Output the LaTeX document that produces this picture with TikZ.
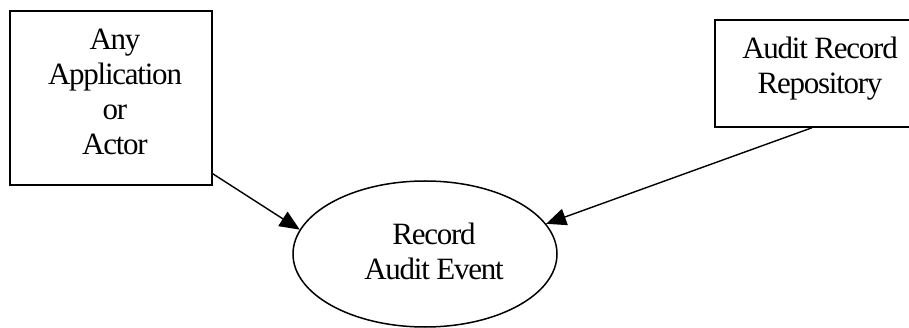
\documentclass[tikz,border=0pt]{standalone}
\usepackage{fontspec}
\setmainfont{Liberation Serif}[LetterSpace=-4]
\usetikzlibrary{shapes.geometric,arrows.meta}
\begin{document}
\begin{tikzpicture}[x=1pt,y=-1pt,
  boxshape/.style={draw=black,line width=1.5pt,rectangle,inner sep=0pt},
  ovalshape/.style={draw=black,line width=1.5pt,ellipse,inner sep=0pt,minimum width=264pt,minimum height=146pt},
  lbl/.style={align=center,inner sep=0pt,font=\fontsize{31}{35}\selectfont},
  conn/.style={line width=1.4pt,-{Triangle[length=20pt,width=17pt]}}]
\useasboundingbox (0,0) rectangle (909,328);
\clip (0,0) rectangle (909,328);
\node[boxshape,minimum width=202pt,minimum height=174pt] (appbox) at (111,98) {};
\node[lbl] (apptext) at (115,92) {Any\\Application\\or\\Actor};
\node[boxshape,minimum width=210pt,minimum height=107pt] (repbox) at (820,73.5) {};
\node[lbl] (reptext) at (820,69) {Audit Record\\Repository};
\node[ovalshape] (ev) at (425,254) {};
\node[lbl] (evtext) at (434,251) {Record\\Audit Event};
\coordinate (appout) at ([yshift=12pt]appbox.south east);
\coordinate (repout) at ([xshift=-8pt]repbox.south);
\draw[conn] (appout) -- (ev.169);
\draw[conn] (repout) -- (ev.14);
\end{tikzpicture}
\end{document}
